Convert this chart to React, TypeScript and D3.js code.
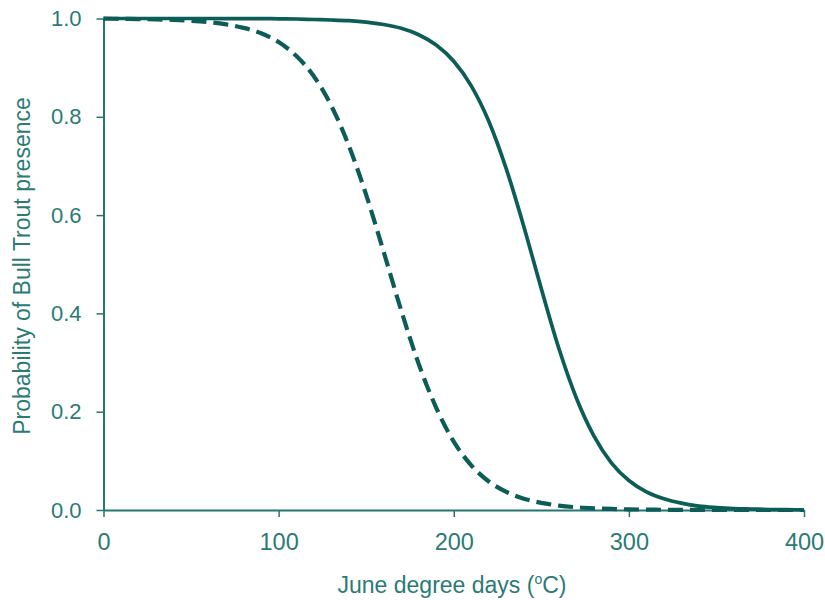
import {useEffect, useRef} from "react";
import * as d3 from "d3";

// degree days, every 10 units
const degreeDays = [
    0, 10, 20, 30, 40, 50, 60, 70, 80, 90, 100, 110, 120, 130, 140, 150, 160, 170, 180, 190, 200,
    210, 220, 230, 240, 250, 260, 270, 280, 290, 300, 310, 320, 330, 340, 350, 360, 370, 380, 390, 400,
];

// solid curve
const solidProb = [
    1.0, 1.0, 1.0, 1.0, 1.0, 1.0, 1.0, 0.9999, 0.9998, 0.9997, 0.9994, 0.999, 0.998, 0.997, 0.9955,
    0.9926, 0.9877, 0.98, 0.967, 0.946, 0.913, 0.863, 0.791, 0.694, 0.577, 0.45, 0.329, 0.228, 0.151,
    0.096, 0.06, 0.037, 0.023, 0.014, 0.008, 0.005, 0.003, 0.002, 0.001, 0.0007, 0.0004,
];

// dashed curve
const dashedProb = [
    0.9996, 0.9993, 0.9989, 0.9982, 0.9972, 0.9954, 0.9926, 0.988, 0.981, 0.97, 0.952, 0.924, 0.883,
    0.823, 0.742, 0.641, 0.525, 0.406, 0.297, 0.208, 0.139, 0.091, 0.058, 0.037, 0.023, 0.0145, 0.009,
    0.0056, 0.0035, 0.0021, 0.0013, 0.0008, 0.0005, 0.0003, 0.0002, 0.0001, 0.0001, 0, 0, 0, 0,
];

const xTicks = [0, 100, 200, 300, 400];
const yTicks = [0, 0.2, 0.4, 0.6, 0.8, 1.0];

const lineColor = "#0c5c57";
const axisColor = "#267570";
const textColor = "#2b7b74";
const font = "Liberation Sans, Arial, sans-serif";

export default function App() {
    const ref = useRef<SVGSVGElement | null>(null);

    useEffect(() => {
        const el = ref.current;
        if(!el) return;
        const svg = d3.select(el);
        svg.selectAll("*").remove();

        const x = d3.scaleLinear().domain([0, 400]).range([103.5, 804]);
        const y = d3.scaleLinear().domain([0, 1]).range([510, 18.5]);

        const styleText = (size: number) => (g: any) =>
            g
                .selectAll("text")
                .attr("fill", textColor)
                .attr("font-size", size)
                .attr("font-family", font);

        svg
            .append("g")
            .attr("transform", `translate(0, ${y(0)})`)
            .call(d3.axisBottom(x).tickValues(xTicks).tickSize(7).tickSizeOuter(0).tickPadding(16))
            .call((g: any) => g.select(".domain").attr("stroke", axisColor).attr("stroke-width", 2))
            .call((g: any) => g.selectAll("line").attr("stroke", axisColor).attr("stroke-width", 1.5))
            .call(styleText(23.5));

        svg
            .append("g")
            .attr("transform", `translate(${x(0)}, 0)`)
            .call(
                d3
                    .axisLeft(y)
                    .tickValues(yTicks)
                    .tickSize(7)
                    .tickSizeOuter(0)
                    .tickPadding(15)
                    .tickFormat(d3.format(".1f") as any)
            )
            .call((g: any) => g.select(".domain").attr("stroke", axisColor).attr("stroke-width", 2))
            .call((g: any) => g.selectAll("line").attr("stroke", axisColor).attr("stroke-width", 1.5))
            .call(styleText(22));

        const line = d3
            .line<number>()
            .x((_, i) => x(degreeDays[i]))
            .y((d) => y(d))
            .curve(d3.curveMonotoneX);

        svg
            .append("path")
            .datum(dashedProb)
            .attr("d", line)
            .attr("fill", "none")
            .attr("stroke", lineColor)
            .attr("stroke-width", 4.2)
            .attr("stroke-dasharray", "15,7");

        svg
            .append("path")
            .datum(solidProb)
            .attr("d", line)
            .attr("fill", "none")
            .attr("stroke", lineColor)
            .attr("stroke-width", 3.7);

        // axis titles
        const xt = svg
            .append("text")
            .attr("x", 452)
            .attr("y", 593)
            .attr("text-anchor", "middle")
            .attr("fill", textColor)
            .attr("font-size", 23)
            .attr("font-family", font);
        xt.append("tspan").text("June degree days (");
        xt.append("tspan").attr("font-size", 14).attr("dy", -9).text("o");
        xt.append("tspan").attr("dy", 9).text("C)");

        svg
            .append("text")
            .attr("transform", `translate(30, 266) rotate(-90)`)
            .attr("text-anchor", "middle")
            .attr("fill", textColor)
            .attr("font-size", 23)
            .attr("font-family", font)
            .text("Probability of Bull Trout presence");
    }, []);

    return (
        <svg
            ref={ref}
            width={825}
            height={600}
            style={{position: "absolute", left: 0, top: 0, background: "#fff"}}
        />
    );
}
